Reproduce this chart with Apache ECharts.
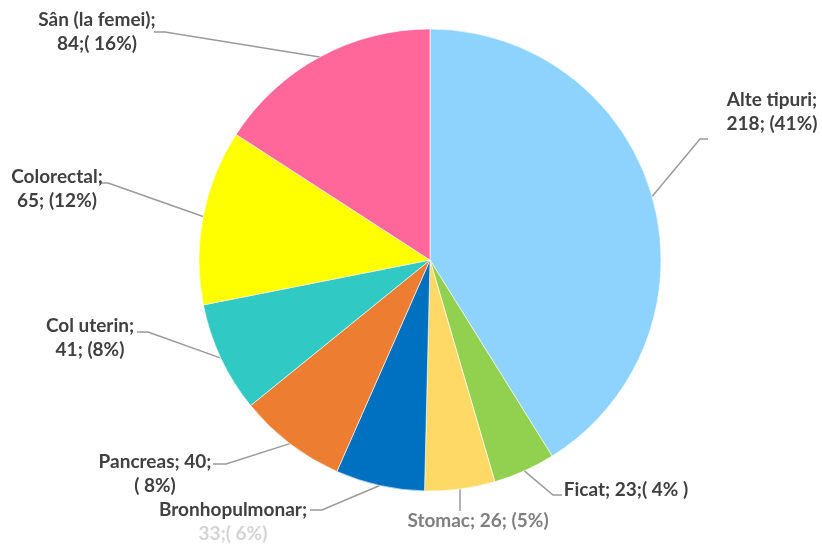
<!DOCTYPE html>
<html>
<head>
<meta charset="utf-8">
<script src="https://cdn.jsdelivr.net/npm/echarts@6/dist/echarts.min.js"></script>
<style>
  html, body { margin: 0; padding: 0; background: #fff; }
  #chart { width: 822px; height: 550px; }
</style>
</head>
<body>
<div id="chart"></div>
<script>
// date
const categories = ['Alte tipuri', 'Ficat', 'Stomac', 'Bronhopulmonar', 'Pancreas', 'Col uterin', 'Colorectal', 'Sân (la femei)']
const values = [218, 23, 26, 33, 40, 41, 65, 84]
const colors = ['#8DD3FD', '#92D050', '#FFD966', '#0070C0', '#ED7D31', '#31C9C4', '#FFFF00', '#FF6699']

// formatul etichetelor (ca in original)
const labelFormats = [
  '{b};\n{c}; ({d}%)',
  '{b}; {c};( {d}% )',
  '{b}; {c}; ({d}%)',
  '{b};\n{faint|{c};( {d}%)}',
  '{b}; {c};\n( {d}%)',
  '{b};\n{c}; ({d}%)',
  '{b};\n{c}; ({d}%)',
  '{b};\n{c};( {d}%)'
]

// pozitia etichetelor: centru text + capat linie
const labelPos = [
  { x: 772, y: 112, line: [[700, 139], [708, 139]] },
  { x: 626, y: 490, line: [[553, 495], [562, 495]] },
  { x: 478, y: 521, line: [[460, 511]] },
  { x: 233, y: 522, line: [[322, 510], [310, 510]] },
  { x: 155, y: 474, line: [[226, 464], [213, 464]] },
  { x: 90, y: 338, line: [[148, 332], [137, 332]] },
  { x: 57, y: 189, line: [[108, 183], [99, 183]] },
  { x: 97, y: 32, line: [[165, 32], [154, 32]] }
]

const chart = echarts.init(document.getElementById('chart'))

const option = {
  animation: false,
  series: [
    {
      type: 'pie',
      center: [430, 260],
      radius: 231,
      startAngle: 90,
      clockwise: true,
      percentPrecision: 0,
      itemStyle: {
        borderColor: '#fff',
        borderWidth: 0.6
      },
      label: {
        show: true,
        fontFamily: 'Lato',
        fontWeight: 'bold',
        fontSize: 19,
        lineHeight: 24,
        color: '#404040',
        align: 'center',
        rich: {
          faint: { color: '#d4d4d4', fontFamily: 'Lato', fontWeight: 'bold', fontSize: 19, lineHeight: 24 }
        }
      },
      labelLine: {
        show: true,
        lineStyle: { color: '#9a9a9a', width: 1.5 }
      },
      labelLayout: (params) => {
        const p = labelPos[params.dataIndex]
        const start = params.labelLinePoints ? params.labelLinePoints[0] : null
        return {
          x: p.x,
          y: p.y,
          align: 'center',
          verticalAlign: 'middle',
          labelLinePoints: start ? [start].concat(p.line) : undefined
        }
      },
      data: categories.map((name, i) => ({
        name: name,
        value: values[i],
        itemStyle: { color: colors[i] },
        label: {
          formatter: labelFormats[i],
          color: i === 2 ? '#7f7f7f' : '#404040'
        }
      }))
    }
  ]
}

chart.setOption(option)
</script>
</body>
</html>
